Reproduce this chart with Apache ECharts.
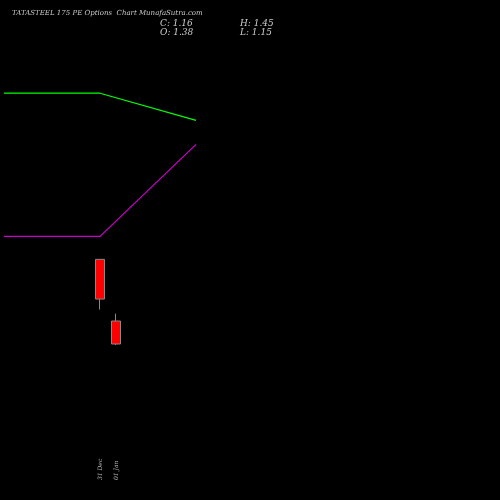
<!DOCTYPE html>
<html><head><meta charset="utf-8">
<script src="https://cdn.jsdelivr.net/npm/echarts@6/dist/echarts.min.js"></script>
<style>html,body{margin:0;background:#000}#c{width:500px;height:500px}</style>
</head><body><div id="c"></div>
<script>
const categories = Array.from({length:32},(_,i)=> i===6?'31 Dec':(i===7?'01 Jan':''));
// [open, close, low, high]
const candles = [[1.97,1.59,1.49,1.97],[1.38,1.16,1.15,1.45]];
const greenLine = [3.56,3.56,3.56,3.56,3.56,3.56,3.56,'-','-','-','-','-',3.30];
const purpleLine = [2.19,2.19,2.19,2.19,2.19,2.19,2.19,'-','-','-','-','-',3.07];
const candleData = categories.map((c,i)=> i===6?candles[0]:(i===7?candles[1]:'-'));
const chart = echarts.init(document.getElementById('c'));
const tf = {fontFamily:'DejaVu Serif',fontStyle:'italic',fill:'#ccc'};
chart.setOption({
  backgroundColor:'#000', animation:false,
  grid:{left:4,right:0,top:0,bottom:5},
  xAxis:{type:'category',data:categories,boundaryGap:false,axisLine:{show:false},axisTick:{show:false},splitLine:{show:false},
    axisLabel:{interval:0,rotate:90,inside:true,margin:15,color:'#bbb',fontSize:6,fontStyle:'italic',fontFamily:'DejaVu Serif'}},
  yAxis:{type:'value',min:-0.285,max:4.452,show:false},
  series:[
    {type:'line',data:greenLine,connectNulls:true,symbol:'none',lineStyle:{color:'#00ff00',width:1.2}},
    {type:'line',data:purpleLine,connectNulls:true,symbol:'none',lineStyle:{color:'#cc00cc',width:1.2}},
    {type:'candlestick',data:candleData,barWidth:10,itemStyle:{color:'#ff0000',color0:'#ff0000',borderColor:'#888',borderColor0:'#888',borderWidth:1}}
  ],
  graphic:[
    {type:'text',left:12,top:10,style:Object.assign({text:'TATASTEEL 175 PE Options  Chart MunafaSutra.com',fontSize:7},tf)},
    {type:'text',left:160,top:19,style:Object.assign({text:'C: 1.16',fontSize:9},tf)},
    {type:'text',left:160,top:28,style:Object.assign({text:'O: 1.38',fontSize:9},tf)},
    {type:'text',left:240,top:19,style:Object.assign({text:'H: 1.45',fontSize:9},tf)},
    {type:'text',left:240,top:28,style:Object.assign({text:'L: 1.15',fontSize:9},tf)}
  ]
});
</script></body></html>
